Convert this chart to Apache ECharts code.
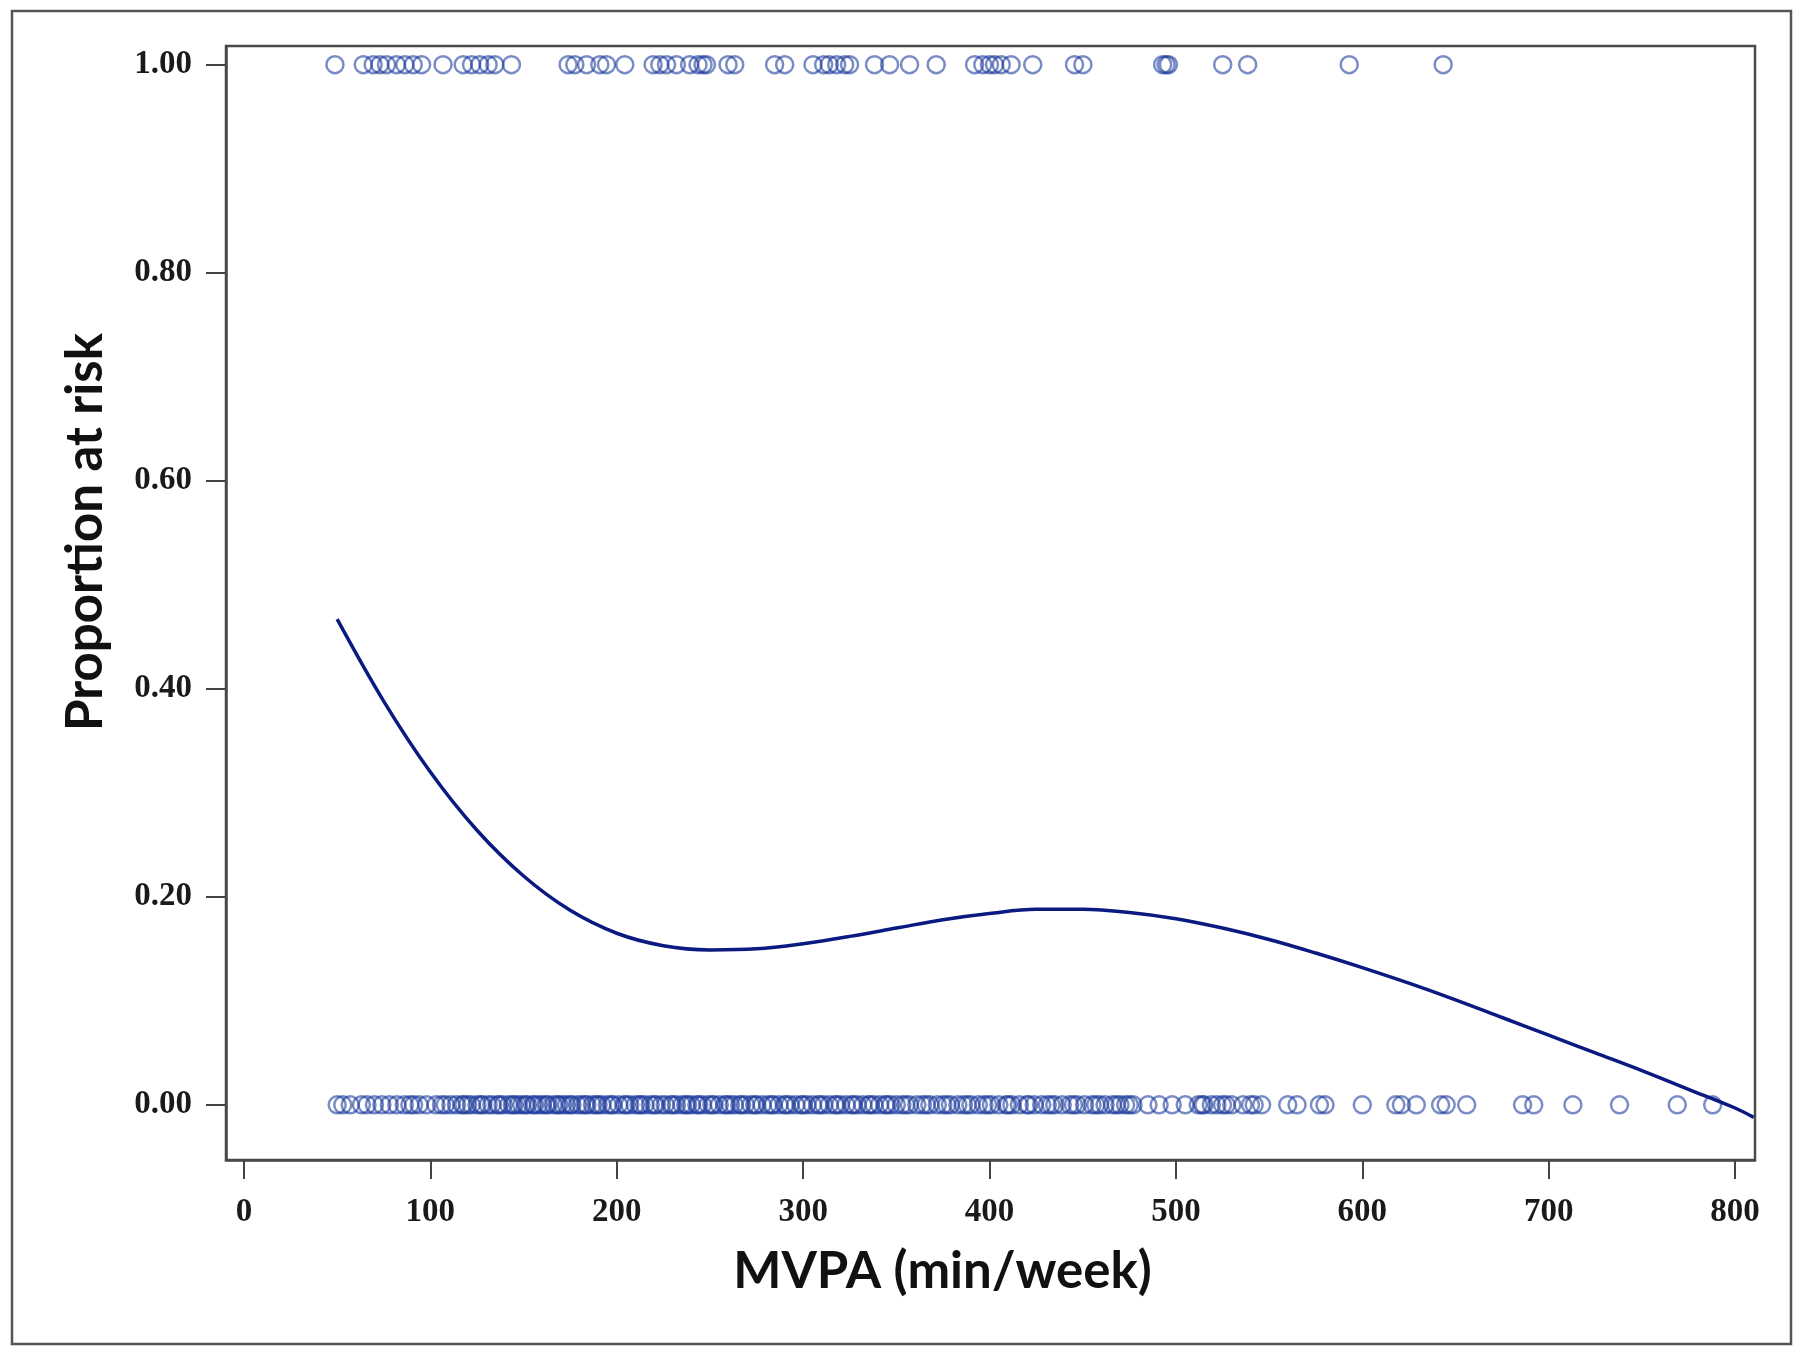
<!DOCTYPE html>
<html><head><meta charset="utf-8">
<script src="https://cdn.jsdelivr.net/npm/echarts@6/dist/echarts.min.js"></script>
<style>html,body{margin:0;padding:0;background:#fff}#c{width:1800px;height:1355px}</style>
</head><body><div id="c"></div>
<script>
// Fitted curve: MVPA (min/week) vs proportion at risk
const curveX = [50, 75, 100, 125, 150, 175, 200, 225, 250, 275, 300, 325, 350, 375, 400, 425, 450, 475, 500, 525, 550, 575, 600, 625, 650, 675, 700, 725, 750, 775, 800, 810];
const curveY = [0.467, 0.388, 0.320, 0.264, 0.220, 0.187, 0.165, 0.153, 0.149, 0.150, 0.155, 0.162, 0.170, 0.178, 0.184, 0.188, 0.188, 0.185, 0.179, 0.170, 0.159, 0.146, 0.132, 0.117, 0.101, 0.084, 0.067, 0.050, 0.033, 0.015, -0.003, -0.012];
// Observed cases (outcome = 1)
const eventX = [48.8, 64, 69.3, 72.9, 76.5, 81.8, 86.3, 90.8, 95.3, 106.8, 117.6, 122.1, 126.5, 131, 134.6, 143.5, 173.9, 177.5, 183.8, 190.9, 194.5, 204.3, 219.5, 223.1, 226.7, 232, 239.1, 243.6, 246.3, 248.1, 259.7, 263.3, 284.7, 290.1, 305.3, 311, 314, 318, 322.3, 324.9, 338.3, 346.4, 357.1, 371.4, 392, 396.4, 400, 402.7, 406.3, 411.6, 423.2, 445.6, 450.1, 492.9, 494.7, 496, 525.1, 538.5, 593, 643.4];
// Observed non-cases (outcome = 0)
const nonEventX = [50, 53, 57, 63, 66, 70, 74, 78, 82, 86, 89, 91, 94, 98, 103, 106, 108, 111, 114, 117, 120, 122, 125, 128, 131, 133, 136, 139, 142, 145, 147, 149, 152, 155, 158, 160, 163, 166, 168, 171, 173, 176, 179, 181, 184, 187, 190, 192, 195, 198, 201, 204, 207, 210, 212, 215, 218, 221, 224, 226, 229, 232, 235, 238, 240, 243, 246, 249, 252, 255, 258, 261, 263, 266, 269, 272, 275, 278, 281, 284, 287, 290, 293, 296, 299, 302, 305, 308, 311, 314, 317, 320, 323, 326, 329, 332, 335, 338, 341, 344, 347, 350, 353, 357, 361, 364, 368, 372, 375, 379, 383, 386, 390, 394, 397, 401, 405, 409, 412, 416, 420, 424, 428, 431, 435, 439, 443, 447, 451, 455, 459, 462, 466, 470, 473, 477, 485, 491, 498, 505, 512, 515, 519, 522, 527, 530, 536, 542, 546, 560, 565, 577, 580, 600, 618, 621, 629, 642, 645, 656, 686, 692, 713, 738, 769, 788,
  118, 127, 137, 144, 151, 156, 162, 169, 175, 183, 189, 197, 205, 213, 220, 230, 237, 244, 251, 259, 267, 274, 283, 291, 300, 309, 318, 327, 336, 345, 355, 366, 377, 388, 399, 410, 421, 433, 445, 457, 468, 475, 514, 525, 540];
const xTicks = [0, 100, 200, 300, 400, 500, 600, 700, 800];
const yTicks = [0, 0.2, 0.4, 0.6, 0.8, 1.0];

const chart = echarts.init(document.getElementById('c'), null, {renderer: 'canvas'});
const ring = {color: 'rgba(0,0,0,0)', borderColor: 'rgba(25,55,155,0.72)', borderWidth: 2.5};
const labelFont = {fontFamily: 'Liberation Serif', fontSize: 33, fontWeight: 'bold', color: '#1a1a1a'};
const frame = {color: '#4a4a4a', width: 2.5};
chart.setOption({
  animation: false,
  backgroundColor: '#fff',
  grid: {left: 226, top: 46, right: 45, bottom: 195, show: true, borderColor: '#4a4a4a', borderWidth: 2.5},
  graphic: [{type: 'rect', shape: {x: 12, y: 11, width: 1779, height: 1333}, style: {fill: 'none', stroke: '#555', lineWidth: 2.5}, silent: true}],
  xAxis: {
    type: 'value', min: -9.65, max: 810.7,
    name: 'MVPA (min/week)', nameLocation: 'middle', nameGap: 86,
    nameTextStyle: {fontFamily: 'Lato', fontWeight: 'bold', fontSize: 51, color: '#111', padding: [0, 96, 0, 0]},
    axisLine: {show: true, onZero: false, lineStyle: frame},
    axisTick: {show: true, length: 19, inside: false, customValues: xTicks, lineStyle: {color: '#444', width: 2}},
    axisLabel: Object.assign({margin: 36, customValues: xTicks, formatter: v => String(v)}, labelFont),
    splitLine: {show: false}
  },
  yAxis: {
    type: 'value', min: -0.053, max: 1.018,
    name: 'Proportion at risk', nameLocation: 'middle', nameGap: 115,
    nameTextStyle: {fontFamily: 'Lato', fontWeight: 'bold', fontSize: 51, color: '#111', padding: [0, 0, 0, 142]},
    axisLine: {show: true, onZero: false, lineStyle: frame},
    axisTick: {show: true, length: 20, customValues: yTicks, lineStyle: {color: '#444', width: 2}},
    axisLabel: Object.assign({margin: 34, customValues: yTicks, formatter: v => v.toFixed(2)}, labelFont),
    splitLine: {show: false}
  },
  series: [
    {type: 'scatter', symbol: 'circle', symbolSize: 17, itemStyle: ring, data: eventX.map(x => [x, 1])},
    {type: 'scatter', symbol: 'circle', symbolSize: 17, itemStyle: ring, data: nonEventX.map(x => [x, 0])},
    {type: 'line', smooth: 0.35, showSymbol: false, lineStyle: {color: '#0a1a80', width: 3.5}, data: curveX.map((x, i) => [x, curveY[i]]), z: 5}
  ]
});
</script></body></html>
